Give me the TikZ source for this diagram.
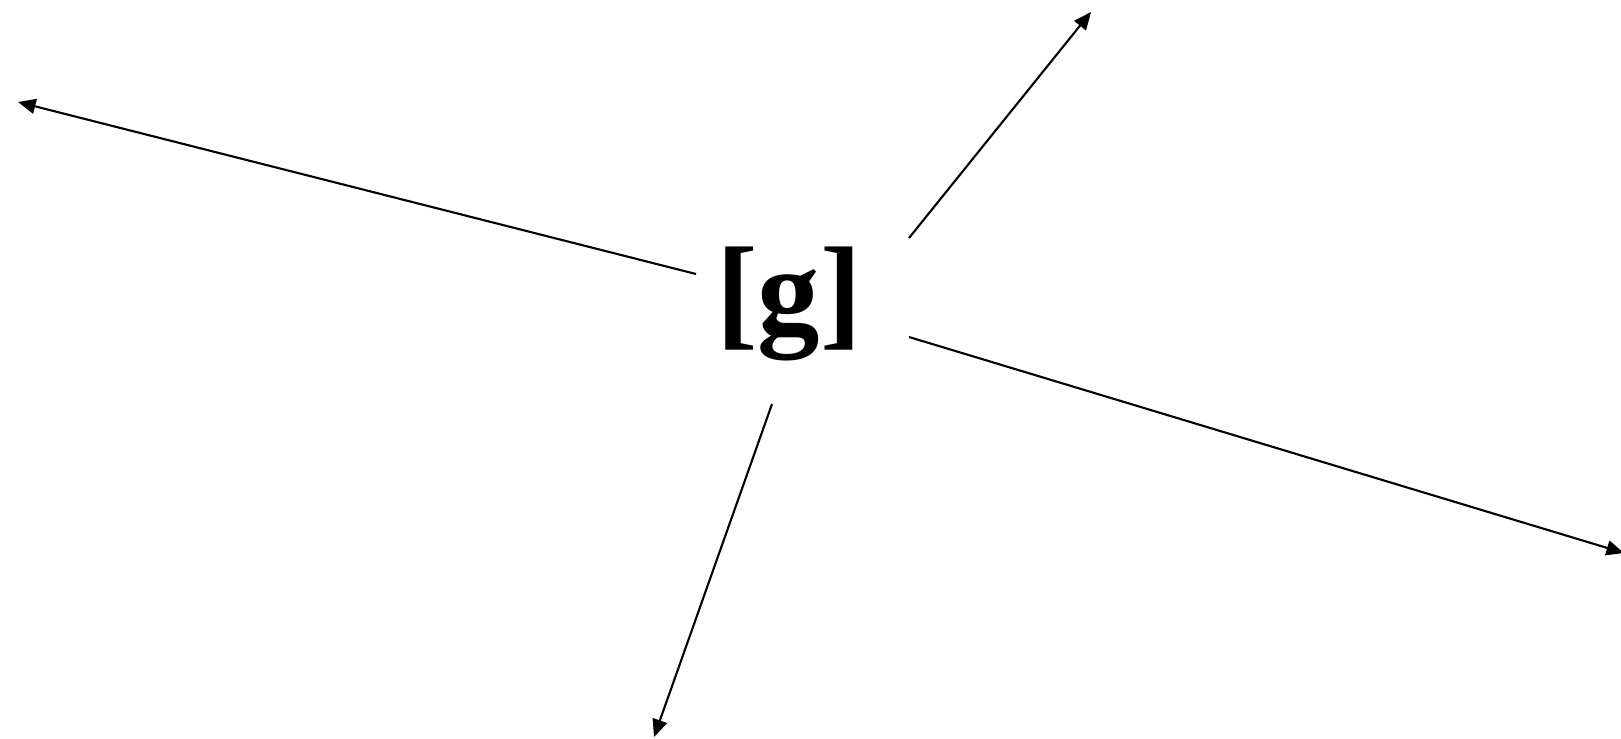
\documentclass[tikz,border=0pt]{standalone}
\usepackage{fontspec}
\newfontfamily\gfont{Liberation Serif}
\usetikzlibrary{arrows.meta}
\begin{document}
\begin{tikzpicture}[x=0.02cm,y=-0.02cm,
  conn/.style={line width=1.2pt,-{Triangle[length=10pt,width=8.5pt]}}]
\useasboundingbox (0,0) rectangle (1621,738);
\node[font=\gfont\bfseries\fontsize{71}{71}\selectfont,inner sep=0pt] (g) at (789,304) {[g]};
\coordinate (s1) at (696,274); \coordinate (e1) at (18,102);
\coordinate (s2) at (909,238); \coordinate (e2) at (1091,12);
\coordinate (s3) at (909,337); \coordinate (e3) at (1624,553);
\coordinate (s4) at (772,404); \coordinate (e4) at (654,737);
\draw[conn] (s1) -- (e1);
\draw[conn] (s2) -- (e2);
\draw[conn] (s3) -- (e3);
\draw[conn] (s4) -- (e4);
\end{tikzpicture}
\end{document}
